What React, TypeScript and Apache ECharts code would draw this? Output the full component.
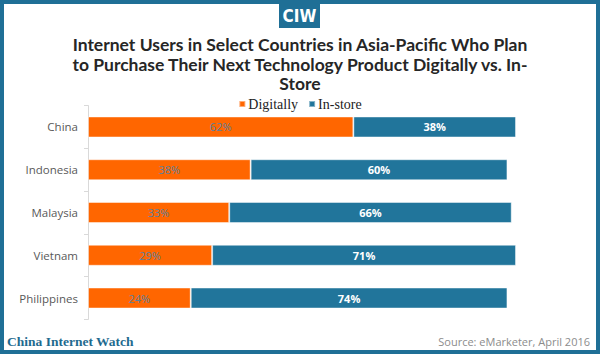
import React, { useEffect, useRef } from "react";
import * as echarts from "echarts";

const categories = ["China", "Indonesia", "Malaysia", "Vietnam", "Philippines"];
const digitally = [62, 38, 33, 29, 24];
const inStore = [38, 60, 66, 71, 74];
const seriesNames = ["Digitally", "In-store"];
const titleText =
  "Internet Users in Select Countries in Asia-Pacific Who Plan\nto Purchase Their Next Technology Product Digitally vs. In-\nStore";
const footerLeft = "China Internet Watch";
const footerRight = "Source: eMarketer, April 2016";
const logoText = "CIW";

const ORANGE = "#ff6600";
const TEAL = "#21759b";
const FRAME = "#1f6f96";

export default function App() {
  const ref = useRef<HTMLDivElement>(null);
  useEffect(() => {
    if (!ref.current) return;
    const chart = echarts.init(ref.current, undefined, { renderer: "svg" });
    chart.setOption({
      animation: false,
      backgroundColor: "#ffffff",
      title: {
        text: titleText,
        left: "center",
        top: 30,
        textStyle: {
          fontFamily: "Lato",
          fontWeight: "bold",
          fontSize: 17.5,
          lineHeight: 19.5,
          color: "#262626",
        },
      },
      legend: {
        data: seriesNames,
        top: 92,
        left: "center",
        itemWidth: 6,
        itemHeight: 6,
        itemGap: 10,
        icon: "rect",
        textStyle: {
          fontFamily: "Liberation Serif",
          fontSize: 14,
          color: "#222222",
          padding: [0, 0, 0, -2],
        },
      },
      grid: {
        left: 88,
        right: 84,
        top: 105.6,
        bottom: 34.6,
        containLabel: false,
      },
      xAxis: {
        type: "value",
        min: 0,
        max: 100,
        show: false,
      },
      yAxis: {
        type: "category",
        data: categories,
        inverse: true,
        axisLine: { show: true, lineStyle: { color: "#d9d9d9", width: 1 } },
        axisTick: { show: true, length: 4, lineStyle: { color: "#d9d9d9" } },
        axisLabel: {
          margin: 10,
          fontFamily: "Open Sans",
          fontSize: 11.5,
          color: "#595959",
        },
      },
      graphic: [
        {
          type: "rect",
          shape: { x: 2, y: 2, width: 596, height: 350 },
          style: { fill: "none", stroke: FRAME, lineWidth: 4 },
          silent: true,
        },
        {
          type: "rect",
          shape: { x: 279, y: 2, width: 41, height: 26 },
          style: { fill: FRAME },
        },
        {
          type: "text",
          x: 299.5,
          y: 16,
          style: {
            text: logoText,
            fill: "#ffffff",
            font: "bold 17px 'Liberation Sans Narrow', 'DejaVu Sans Condensed', sans-serif",
            align: "center",
            verticalAlign: "middle",
          },
        },
        {
          type: "text",
          x: 7,
          y: 341,
          style: {
            text: footerLeft,
            fill: "#1f6b8f",
            font: "bold 13.5px 'Liberation Serif', serif",
            align: "left",
            verticalAlign: "middle",
          },
        },
        {
          type: "text",
          x: 590,
          y: 341,
          style: {
            text: footerRight,
            fill: "#8c8c8c",
            font: "11px 'Open Sans', sans-serif",
            align: "right",
            verticalAlign: "middle",
          },
        },
      ],
      series: [
        {
          name: seriesNames[0],
          type: "bar",
          stack: "total",
          data: digitally,
          barWidth: 21,
          itemStyle: { color: ORANGE, borderColor: "rgba(255,255,255,0.45)", borderWidth: 1 },
          label: {
            show: true,
            position: "inside",
            formatter: "{c}%",
            fontFamily: "Open Sans",
            fontSize: 11,
            color: "#5b7f9c",
          },
        },
        {
          name: seriesNames[1],
          type: "bar",
          stack: "total",
          data: inStore,
          barWidth: 21,
          itemStyle: { color: TEAL, borderColor: "rgba(255,255,255,0.45)", borderWidth: 1 },
          label: {
            show: true,
            position: "inside",
            formatter: "{c}%",
            fontFamily: "Open Sans",
            fontWeight: "bold",
            fontSize: 11,
            color: "#ffffff",
          },
        },
      ],
    });
    return () => chart.dispose();
  }, []);
  return (
    <div
      ref={ref}
      style={{ position: "fixed", left: 0, top: 0, width: 600, height: 354 }}
    />
  );
}
